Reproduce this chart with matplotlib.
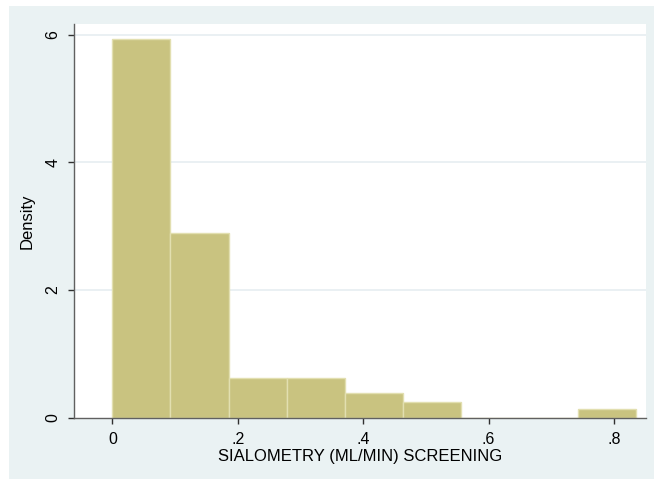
import matplotlib.pyplot as plt
from matplotlib.patches import Rectangle

# Histogram of screening sialometry (density scale)
bin_edges = [0.0, 0.0927, 0.1855, 0.2782, 0.3709, 0.4637, 0.5564, 0.6491, 0.7418, 0.8346]
densities = [5.93, 2.90, 0.627, 0.627, 0.382, 0.251, 0.0, 0.0, 0.132]
x_ticks = [0, 0.2, 0.4, 0.6, 0.8]
x_tick_labels = ['0', '.2', '.4', '.6', '.8']
y_ticks = [0, 2, 4, 6]

plt.rcParams['font.family'] = ['Liberation Sans', 'DejaVu Sans']

W, H = 654, 479
fig = plt.figure(figsize=(W / 100, H / 100), dpi=100, facecolor='white')

# light blue-grey graph region
fig.patches.append(Rectangle((9 / W, 0), 1 - 9 / W, 1 - 6 / H, transform=fig.transFigure,
                             facecolor='#eaf2f3', edgecolor='none', zorder=-10))

left, right, top, bottom = 73.5, 646, 24, 417.7
ax = fig.add_axes([left / W, 1 - bottom / H, (right - left) / W, (bottom - top) / H])
ax.set_facecolor('white')

widths = [bin_edges[i + 1] - bin_edges[i] for i in range(len(densities))]
ax.bar(bin_edges[:-1], densities, width=widths, align='edge',
       color='#c9c380', edgecolor='#e2dfb0', linewidth=1.0, zorder=2)

ax.set_xlim(-0.0619, 0.851)
ax.set_ylim(0, 6.168)

ax.set_xticks(x_ticks)
ax.set_xticklabels(x_tick_labels)
ax.set_yticks(y_ticks)
ax.set_yticklabels([str(v) for v in y_ticks], rotation=90, va='center')

for v in y_ticks[1:]:
    ax.axhline(v, color='#e6eef1', linewidth=1.2, zorder=1)

for side in ['top', 'right']:
    ax.spines[side].set_visible(False)
for side in ['left', 'bottom']:
    ax.spines[side].set_color('#606060')
    ax.spines[side].set_linewidth(1.0)

ax.tick_params(axis='both', colors='#303030', labelcolor='black', length=4.5, width=1.0,
               labelsize=11.5)
ax.tick_params(axis='x', pad=6)
ax.tick_params(axis='y', pad=5)

ax.set_xlabel('SIALOMETRY (ML/MIN) SCREENING', fontsize=12, labelpad=1)
ax.set_ylabel('Density', fontsize=12, labelpad=8)

fig.savefig('out.png', dpi=100, facecolor='white')
